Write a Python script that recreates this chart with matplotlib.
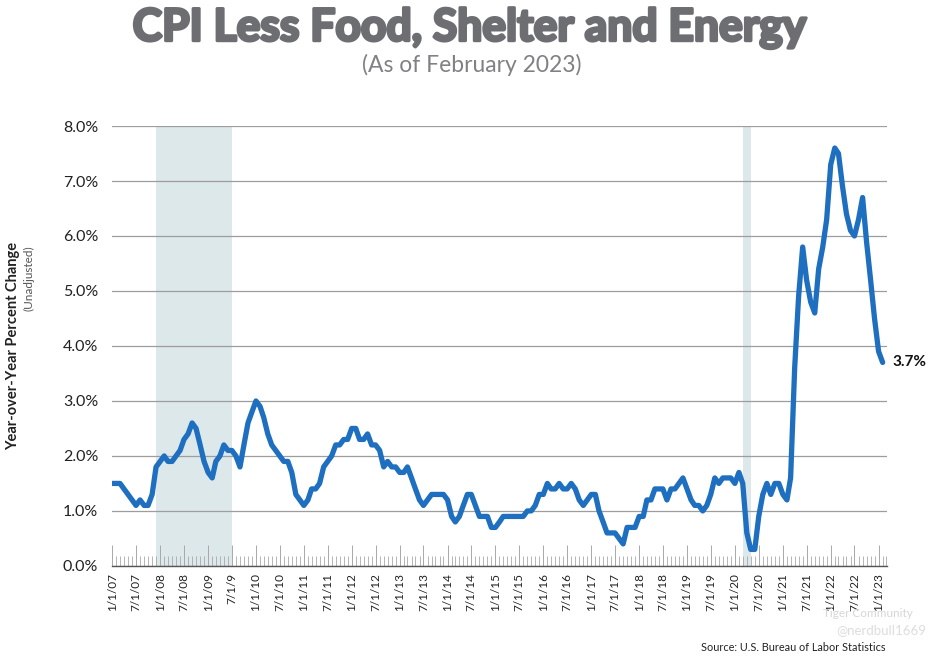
import matplotlib
matplotlib.use("Agg")
import matplotlib.pyplot as plt
import matplotlib.dates as mdates
import matplotlib.ticker as mticker
from matplotlib.patheffects import withStroke
import pandas as pd

plt.rcParams['font.family'] = ['Lato', 'DejaVu Sans']

# monthly dates, 1/1/07 .. 2/1/23
dates = pd.date_range('2007-01-01', '2023-02-01', freq='MS')

# YoY % change, CPI less food, shelter and energy
cpi_yoy = [
    1.5, 1.5, 1.5, 1.4, 1.3, 1.2, 1.1, 1.2, 1.1, 1.1, 1.3, 1.8,   # 2007
    1.9, 2.0, 1.9, 1.9, 2.0, 2.1, 2.3, 2.4, 2.6, 2.5, 2.2, 1.9,   # 2008
    1.7, 1.6, 1.9, 2.0, 2.2, 2.1, 2.1, 2.0, 1.8, 2.2, 2.6, 2.8,   # 2009
    3.0, 2.9, 2.7, 2.4, 2.2, 2.1, 2.0, 1.9, 1.9, 1.7, 1.3, 1.2,   # 2010
    1.1, 1.2, 1.4, 1.4, 1.5, 1.8, 1.9, 2.0, 2.2, 2.2, 2.3, 2.3,   # 2011
    2.5, 2.5, 2.3, 2.3, 2.4, 2.2, 2.2, 2.1, 1.8, 1.9, 1.8, 1.8,   # 2012
    1.7, 1.7, 1.8, 1.6, 1.4, 1.2, 1.1, 1.2, 1.3, 1.3, 1.3, 1.3,   # 2013
    1.2, 0.9, 0.8, 0.9, 1.1, 1.3, 1.3, 1.1, 0.9, 0.9, 0.9, 0.7,   # 2014
    0.7, 0.8, 0.9, 0.9, 0.9, 0.9, 0.9, 0.9, 1.0, 1.0, 1.1, 1.3,   # 2015
    1.3, 1.5, 1.4, 1.4, 1.5, 1.4, 1.4, 1.5, 1.4, 1.2, 1.1, 1.2,   # 2016
    1.3, 1.3, 1.0, 0.8, 0.6, 0.6, 0.6, 0.5, 0.4, 0.7, 0.7, 0.7,   # 2017
    0.9, 0.9, 1.2, 1.2, 1.4, 1.4, 1.4, 1.2, 1.4, 1.4, 1.5, 1.6,   # 2018
    1.4, 1.2, 1.1, 1.1, 1.0, 1.1, 1.3, 1.6, 1.5, 1.6, 1.6, 1.6,   # 2019
    1.5, 1.7, 1.5, 0.6, 0.3, 0.3, 0.9, 1.3, 1.5, 1.3, 1.5, 1.5,   # 2020
    1.3, 1.2, 1.6, 3.6, 4.9, 5.8, 5.2, 4.8, 4.6, 5.4, 5.8, 6.3,   # 2021
    7.3, 7.6, 7.5, 6.9, 6.4, 6.1, 6.0, 6.3, 6.7, 5.9, 5.2, 4.5,   # 2022
    3.9, 3.7,                                                     # 2023
]

# recession bands
recessions = [('2007-12-01', '2009-07-01'), ('2020-03-01', '2020-05-01')]

# x tick labels every 6 months (the "7/1/9" typo is in the original)
tick_dates = pd.date_range('2007-01-01', '2023-01-01', freq='6MS')
tick_labels = ['1/1/07', '7/1/07', '1/1/08', '7/1/08', '1/1/09', '7/1/9',
               '1/1/10', '7/1/10', '1/1/11', '7/1/11', '1/1/12', '7/1/12',
               '1/1/13', '7/1/13', '1/1/14', '7/1/14', '1/1/15', '7/1/15',
               '1/1/16', '7/1/16', '1/1/17', '7/1/17', '1/1/18', '7/1/18',
               '1/1/19', '7/1/19', '1/1/20', '7/1/20', '1/1/21', '7/1/21',
               '1/1/22', '7/1/22', '1/1/23']
y_ticks = [0, 1, 2, 3, 4, 5, 6, 7, 8]

fig = plt.figure(figsize=(9.31, 6.65), dpi=100)
ax = fig.add_axes([0.1203, 0.149, 0.832, 0.6615])

for start, end in recessions:
    ax.axvspan(pd.Timestamp(start), pd.Timestamp(end), color='#dde8ea',
               lw=0, zorder=0.2)

ax.plot(dates, cpi_yoy, color='#1e6fbf', lw=3.8, solid_joinstyle='round',
        solid_capstyle='round', zorder=3)

ax.set_ylim(0, 8)
ax.set_xlim(pd.Timestamp('2006-12-30'), pd.Timestamp('2023-03-03'))

ax.set_yticks(y_ticks)
ax.yaxis.set_major_formatter(mticker.FuncFormatter(lambda v, p: f'{v:.1f}%'))
ax.tick_params(axis='y', length=0, pad=10, labelsize=11.5, labelcolor='#222222')
ax.set_axisbelow(True)
ax.yaxis.grid(True, color='#9d9d9d', lw=0.9, zorder=0.5)

ax.set_xticks(tick_dates)
ax.set_xticklabels(tick_labels, rotation=90, fontsize=8.5, color='#222222')
ax.xaxis.set_minor_locator(mdates.MonthLocator())
ax.tick_params(axis='x', which='major', direction='in', length=15,
               width=0.7, color='#a8a8a8', pad=5)
ax.tick_params(axis='x', which='minor', direction='in', length=7,
               width=0.6, color='#a8a8a8')

for s in ['top', 'right', 'left']:
    ax.spines[s].set_visible(False)
ax.spines['bottom'].set_color('#555555')
ax.spines['bottom'].set_linewidth(1.0)

# last value label
ax.annotate(f'{cpi_yoy[-1]:.1f}%', xy=(dates[-1], cpi_yoy[-1]),
            xytext=(7, 0), textcoords='offset points', va='center',
            ha='left', fontsize=11, fontweight='bold', color='#111111',
            annotation_clip=False)

# title: Lato Black is not installed, so thicken bold with a stroke
fig.text(0.505, 0.958, 'CPI Less Food, Shelter and Energy', ha='center',
         va='center', fontsize=32, fontweight='bold', color='#6d6e71',
         path_effects=[withStroke(linewidth=2.2, foreground='#6d6e71')])
fig.text(0.507, 0.903, '(As of February 2023)', ha='center', va='center',
         fontsize=16.5, color='#808184')

fig.text(0.0145, 0.48, 'Year-over-Year Percent Change', rotation=90,
         ha='center', va='center', fontsize=10.5, fontweight='bold',
         color='#222222')
fig.text(0.031, 0.582, '(Unadjusted)', rotation=90, ha='center', va='center',
         fontsize=8.5, color='#555555')

fig.text(0.951, 0.026, 'Source: U.S. Bureau of Labor Statistics', ha='right',
         va='center', fontsize=7.8, color='#222222')

# platform watermark
fig.text(0.98, 0.078, 'Tiger Community', ha='right', va='center',
         fontsize=8.5, color='#d6d6d6')
fig.text(0.995, 0.052, '@nerdbull1669', ha='right', va='center',
         fontsize=9.5, color='#dddddd')

fig.savefig('out.png', dpi=100, facecolor='white')
